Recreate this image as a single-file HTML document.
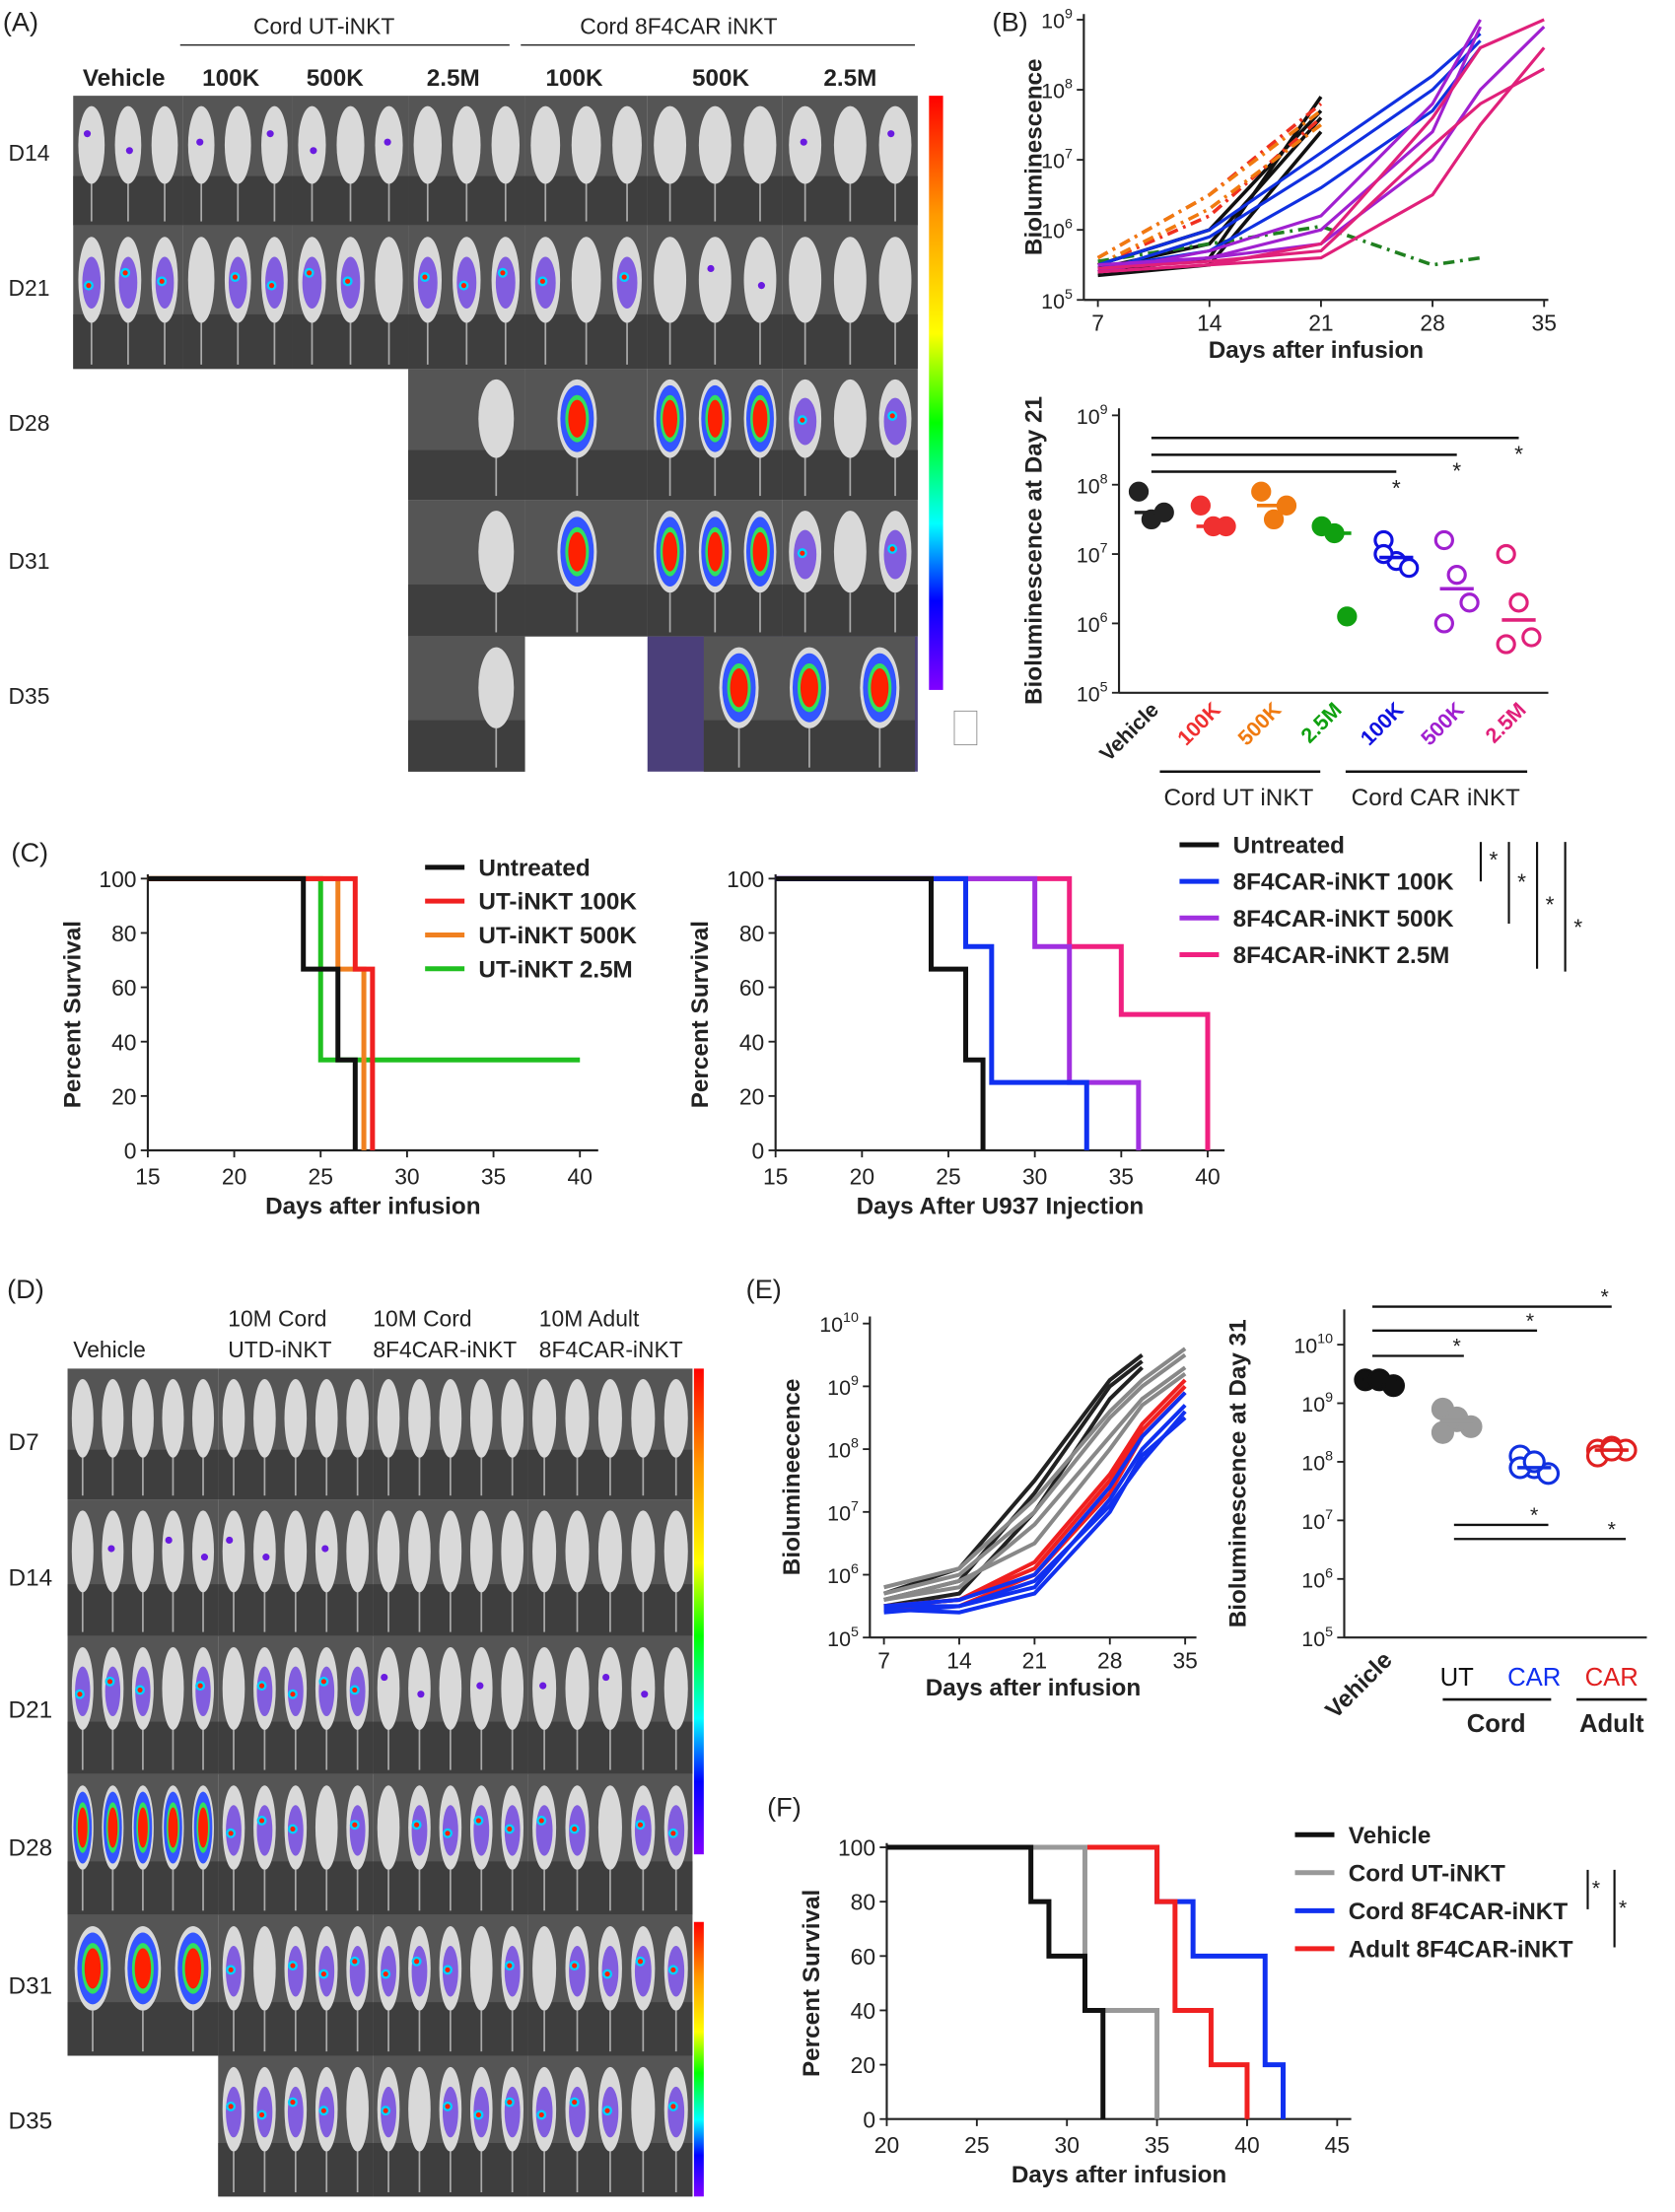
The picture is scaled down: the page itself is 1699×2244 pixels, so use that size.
<!DOCTYPE html>
<html><head><meta charset="utf-8">
<style>
html,body{margin:0;padding:0;background:#fff}
svg{display:block}
text{font-family:"Liberation Sans Narrow","Liberation Sans",sans-serif;fill:#222}
</style></head>
<body>
<svg id="fig" xmlns="http://www.w3.org/2000/svg" width="1699" height="2244" viewBox="0 0 1190 1571" preserveAspectRatio="none">
<defs>
<linearGradient id="rainbow" x1="0" y1="0" x2="0" y2="1">
<stop offset="0" stop-color="#ff0000"/><stop offset="0.2" stop-color="#ff9900"/><stop offset="0.4" stop-color="#ffff00"/><stop offset="0.55" stop-color="#00ff00"/><stop offset="0.72" stop-color="#00ffff"/><stop offset="0.85" stop-color="#0000ff"/><stop offset="1" stop-color="#8000ff"/>
</linearGradient>
</defs>
<g id="root"></g>
</svg>
<script>
// ---------- DATA ----------
const bDaysA = [7,14,21];
const bDaysB = [7,14,21,28,31];
const bDaysC = [7,14,21,28,31,35];
const bVehicle = [[5.4,5.6,7.9],[5.5,6.0,7.7],[5.35,5.5,7.4],[5.45,5.8,7.6]];
const bUT100 = [[5.5,6.2,7.6],[5.6,6.5,7.8]];
const bUT500 = [[5.6,6.5,7.7],[5.5,6.3,7.5]];
const bUT25 = [5.55,5.8,6.05,5.5,5.6];
const bCAR100 = [[5.4,5.9,6.9,8.0,8.7],[5.5,6.0,7.1,8.2,8.8],[5.45,5.7,6.6,7.7,8.6]];
const bCAR500 = [[5.4,5.7,6.2,7.8,9.0],[5.5,5.6,6.0,7.4,8.9],[5.45,5.6,5.8,7.0,8.0,8.9]];
const bCAR25 = [[5.4,5.5,5.6,6.5,7.5,8.6],[5.45,5.55,5.7,7.2,7.8,8.3],[5.4,5.5,5.8,7.6,8.6,9.0]];
const dCats = ["Vehicle","100K","500K","2.5M","100K","500K","2.5M"];
const dCatColors = ["#222","#f03030","#f07a10","#10a010","#1010e0","#a020d0","#e0207a"];
const dVals = [[7.9,7.5,7.6],[7.7,7.4,7.4],[7.9,7.5,7.7],[7.4,7.3,6.1],[7.2,6.9,6.8,7.0],[7.2,6.7,6.3,6.0],[7.0,6.3,5.8,5.7]];
const dFilled = [1,1,1,1,0,0,0];
const cBlackT=[15,24,26,27,27], cBlackS=[100,66.7,33.3,0,0];
const cRedT=[15,27,28], cRedS=[100,66.7,0];
const cOrT=[15,26,27.5], cOrS=[100,66.7,0];
const cGrT=[15,25,40], cGrS=[100,33.3,33.3];
const c2BlueT=[15,26,27.5,33], c2BlueS=[100,75,25,0];
const c2PurT=[15,30,32,36], c2PurS=[100,75,25,0];
const c2PinT=[15,32,35,40], c2PinS=[100,75,50,0];
const eDays=[7,14,21,28,31,35];
const eVehicle=[[5.6,5.9,7.3,9.0,9.4],[5.5,5.7,7.0,8.8,9.3],[5.7,6.1,7.5,9.1,9.5]];
const eUT=[[5.7,6.0,7.0,8.5,9.0,9.5],[5.6,5.8,6.8,8.2,8.8,9.3],[5.8,6.1,7.2,8.6,9.1,9.6],[5.6,5.9,6.5,8.0,8.7,9.2]];
const eCAR=[[5.5,5.5,5.8,7.2,8.0,8.7],[5.45,5.4,5.7,7.0,7.9,8.5],[5.5,5.6,6.0,7.4,8.2,8.9],[5.4,5.5,5.9,7.1,7.8,8.6]];
const eAdult=[[5.5,5.6,6.1,7.5,8.3,9.0],[5.45,5.5,6.0,7.3,8.2,8.9],[5.5,5.6,6.2,7.6,8.4,9.1]];
const eCats=["Vehicle","UT","CAR","CAR"];
const eCatColors=["#111","#999","#1030e0","#e02020"];
const eDotVals=[[9.4,9.4,9.3],[8.9,8.7,8.6,8.5,8.75],[8.1,7.9,7.8,7.9,8.0],[8.2,8.25,8.2,8.1,8.2]];
const eFilled=[1,1,0,0];
const fVehT=[20,28,29,31,32], fVehS=[100,80,60,40,0];
const fUTT=[20,31,35], fUTS=[100,40,0];
const fCART=[20,35,37,41,42], fCARS=[100,80,60,20,0];
const fAdT=[20,35,36,38,40], fAdS=[100,80,40,20,0];

// ---------- HELPERS ----------
const NS="http://www.w3.org/2000/svg";
const root=document.getElementById('root');
function mk(tag,attrs,parent){const e=document.createElementNS(NS,tag);for(const k in attrs)e.setAttribute(k,attrs[k]);(parent||root).appendChild(e);return e;}
function txt(x,y,s,size,opts,parent){opts=opts||{};const e=mk('text',Object.assign({x:x,y:y,'font-size':size,'text-anchor':opts.anchor||'start','font-weight':opts.bold?'bold':'normal'},opts.extra||{}),parent);if(opts.fill)e.style.fill=opts.fill;e.textContent=s;return e;}
function lin(d0,d1,r0,r1){return v=>r0+(v-d0)/(d1-d0)*(r1-r0);}
function grp(name){const g=mk('g',{});return g;}

[["(A)",2,22],["(B)",705,22],["(C)",8,612],["(D)",5,922],["(E)",530,922],["(F)",545,1290]].forEach(p=>{const t=txt(p[1],p[2],p[0],19);});

// ---------- MOUSE IMAGES ----------
function mouseBlock(g,x,y,w,h,n,sig,seed,mx,mwid){
  mk('rect',{x:x,y:y,width:w,height:h,fill:'#555'},g);
  mk('rect',{x:x,y:y+h*0.62,width:w,height:h*0.38,fill:'#3e3e3e'},g);
  const ox=(mx===undefined)?x:mx, ow=(mwid===undefined)?w:mwid;
  const mw=ow/n;
  for(let i=0;i<n;i++){
    const cx=ox+mw*(i+0.5), cy=y+h*0.38;
    const rx=Math.min(mw*0.36,14), ry=h*0.3;
    mk('line',{x1:cx,y1:cy+ry,x2:cx,y2:y+h*0.97,stroke:'#aaa','stroke-width':1.2},g);
    mk('ellipse',{cx:cx,cy:cy,rx:rx,ry:ry,fill:'#d9d9d9'},g);
    if(sig){
      const k=(seed+i*7)%5;
      if(sig===1){ if(k<3) mk('circle',{cx:cx-3+k*2,cy:cy-8+k*6,r:2.5,fill:'#6a1be0'},g); }
      else if(sig===2){ if(k<4){mk('ellipse',{cx:cx,cy:cy+2,rx:rx*0.7,ry:ry*0.6,fill:'#6a3de0','fill-opacity':0.8},g);
        mk('circle',{cx:cx-2,cy:cy-5+k*3,r:3.5,fill:'#00d0ff'},g);mk('circle',{cx:cx-2,cy:cy-5+k*3,r:1.8,fill:'#ff2000'},g);}}
      else { mk('ellipse',{cx:cx,cy:cy,rx:rx*0.85,ry:ry*0.85,fill:'#3355ff'},g);
        mk('ellipse',{cx:cx,cy:cy,rx:rx*0.6,ry:ry*0.6,fill:'#30e060'},g);
        mk('ellipse',{cx:cx,cy:cy,rx:rx*0.45,ry:ry*0.48,fill:'#ff2000'},g);}
    }
  }
}
(function(){
  const g=grp('panel-a-images');
  const cols=[52,130,208,290,373,460,556,652];
  const rows=[68,160,262,355,452,548];
  const sigs=[[1,1,1,0,0,0,1],[2,2,2,2,2,1,0]];
  for(let r=0;r<2;r++)for(let c=0;c<7;c++)mouseBlock(g,cols[c],rows[r],cols[c+1]-cols[c],rows[r+1]-rows[r],3,sigs[r][c],r*3+c);
  mouseBlock(g,290,262,83,93,1,0,0,335,35);
  mouseBlock(g,373,262,87,93,1,3,0,390,40);
  mouseBlock(g,460,262,96,93,3,3,1);
  mouseBlock(g,556,262,96,93,3,2,2);
  mouseBlock(g,290,355,83,97,1,0,0,335,35);
  mouseBlock(g,373,355,87,97,1,3,0,390,40);
  mouseBlock(g,460,355,96,97,3,3,1);
  mouseBlock(g,556,355,96,97,3,2,2);
  mouseBlock(g,290,452,83,96,1,0,0,335,35);
  mk('rect',{x:460,y:452,width:192,height:96,fill:'#4b3f7a'},g);
  mouseBlock(g,500,452,150,96,3,3,0);
  const cb=mk('rect',{x:660,y:68,width:10,height:422,fill:'url(#rainbow)'},g);
  
  mk('rect',{x:678,y:505,width:16,height:24,fill:'none',stroke:'#888','stroke-width':0.6},g);
  txt(180,24,"Cord UT-iNKT",16,{},g);txt(412,24,"Cord 8F4CAR iNKT",16,{},g);
  mk('line',{x1:128,y1:32,x2:362,y2:32,stroke:'#222'},g);mk('line',{x1:370,y1:32,x2:650,y2:32,stroke:'#222'},g);
  [["Vehicle",88],["100K",164],["500K",238],["2.5M",322],["100K",408],["500K",512],["2.5M",604]].forEach(h=>txt(h[1],61,h[0],17,{anchor:'middle',bold:true},g));
  [["D14",114],["D21",210],["D28",306],["D31",404],["D35",500]].forEach(h=>txt(6,h[1],h[0],16,{},g));
})();
(function(){
  const g=grp('panel-d-images');
  const cols=[48,155,265,375,492];
  const rows=[972,1065,1162,1260,1360,1460,1560];
  const sigs=[[0,0,0,0],[1,1,0,0],[2,2,1,1],[3,2,2,2],[3,2,2,2],[0,2,2,2]];
  for(let r=0;r<6;r++)for(let c=0;c<4;c++){
    if(r===5&&c===0)continue;
    if(r===4&&c===0){mouseBlock(g,48,1360,107,100,3,3,1);continue;}
    mouseBlock(g,cols[c],rows[r],cols[c+1]-cols[c],rows[r+1]-rows[r],5,sigs[r][c],r*4+c);
  }
  mk('rect',{x:493,y:972,width:7,height:345,fill:'url(#rainbow)'},g);
  mk('rect',{x:493,y:1365,width:7,height:195,fill:'url(#rainbow)'},g);
  txt(52,964,"Vehicle",16,{},g);
  txt(162,942,"10M Cord",16,{},g);txt(162,964,"UTD-iNKT",16,{},g);
  txt(265,942,"10M Cord",16,{},g);txt(265,964,"8F4CAR-iNKT",16,{},g);
  txt(383,942,"10M Adult",16,{},g);txt(383,964,"8F4CAR-iNKT",16,{},g);
  [["D7",1030],["D14",1126],["D21",1220],["D28",1318],["D31",1416],["D35",1512]].forEach(h=>txt(6,h[1],h[0],17,{},g));
})();

function logAxis(g,x0,x1,yBot,yTop,e0,e1,sx,sy,xticks,xLab,yLab,ylx){
  mk('line',{x1:x0,y1:yTop,x2:x0,y2:yBot,stroke:'#222','stroke-width':1.5},g);
  for(let e=e0;e<=e1;e++){const y=sy(e);mk('line',{x1:x0-5,y1:y,x2:x0,y2:y,stroke:'#222','stroke-width':1.3},g);
    const t=txt(x0-8,y+6,"10",15,{anchor:'end'},g);const s=mk('tspan',{dy:-7,'font-size':10},t);s.textContent=e;}
  if(xticks){mk('line',{x1:x0,y1:yBot,x2:x1,y2:yBot,stroke:'#222','stroke-width':1.5},g);
    xticks.forEach(d=>{const x=sx(d);mk('line',{x1:x,y1:yBot,x2:x,y2:yBot+5,stroke:'#222','stroke-width':1.3},g);txt(x,yBot+22,String(d),16,{anchor:'middle'},g);});
    txt((x0+x1)/2,yBot+41,xLab,17,{anchor:'middle',bold:true},g);}
  txt(0,0,yLab,17,{anchor:'middle',bold:true,extra:{transform:`translate(${ylx},${(yBot+yTop)/2}) rotate(-90)`}},g);
}
function drawLine(g,days,vals,sx,sy,color,w,dash,name){
  const p=mk('polyline',{points:vals.map((v,i)=>sx(days[i])+','+sy(v)).join(' '),fill:'none',stroke:color,'stroke-width':w,'stroke-dasharray':dash||'none'},g);
  
}
(function(){
  const g=grp('panel-b-line-chart');
  const sx=lin(7,35,780,1097), sy=lin(5,9,213,14);
  logAxis(g,770,1100,213,10,5,9,sx,sy,[7,14,21,28,35],"Days after infusion","Bioluminescence",740);
  const cut=(a,n)=>a.slice(0,n);
  bVehicle.forEach(v=>drawLine(g,bDaysA,v,sx,sy,'#111',2.5,null,'vehicle-line'));
  bUT100.forEach(v=>drawLine(g,bDaysA,v,sx,sy,'#f03020',2.5,'8,4,2,4','ut-100k-line'));
  bUT500.forEach(v=>drawLine(g,bDaysA,v,sx,sy,'#f07a10',2.5,'8,4,2,4','ut-500k-line'));
  drawLine(g,bDaysB,bUT25,sx,sy,'#208020',2.5,'8,4,2,4','ut-2.5m-line');
  bCAR100.forEach(v=>drawLine(g,cut(bDaysB,v.length),v,sx,sy,'#1030e0',2.2,null,'car-100k-line'));
  bCAR500.forEach(v=>drawLine(g,cut(bDaysC,v.length),v,sx,sy,'#a020d0',2.2,null,'car-500k-line'));
  bCAR25.forEach(v=>drawLine(g,cut(bDaysC,v.length),v,sx,sy,'#e0207a',2.2,null,'car-2.5m-line'));
})();
function dotPlot(g,xs,yBot,yTop,e0,e1,vals,colors,filled,r,spread){
  const sy=lin(e0,e1,yBot,yTop);
  vals.forEach((arr,ci)=>{
    const sorted=arr.slice().sort((a,b)=>a-b);const med=sorted.length%2?sorted[(sorted.length-1)/2]:(sorted[sorted.length/2-1]+sorted[sorted.length/2])/2;
    arr.forEach((v,i)=>{
      const c=mk('circle',{cx:xs[ci]+((i%3)-1)*spread,cy:sy(v),r:r,fill:filled[ci]?colors[ci]:'#fff',stroke:colors[ci],'stroke-width':2.2},g);
      });
    mk('line',{x1:xs[ci]-12,y1:sy(med),x2:xs[ci]+12,y2:sy(med),stroke:colors[ci],'stroke-width':2.5},g);
  });
  return sy;
}
(function(){
  const g=grp('panel-b-dot-plot');
  const xs=[818,862,905,948,992,1035,1079];
  const sy=lin(5,9,492,295);
  logAxis(g,795,1100,492,290,5,9,null,sy,null,"","Bioluminescence at Day 21",740);
  mk('line',{x1:795,y1:492,x2:1100,y2:492,stroke:'#222','stroke-width':1.5},g);
  dotPlot(g,xs,492,295,5,9,dVals,dCatColors,dFilled,6,9);
  dCats.forEach((c,i)=>txt(0,0,c,15,{anchor:'end',bold:true,fill:dCatColors[i],extra:{transform:`translate(${xs[i]+6},${505}) rotate(-45)`}}));
  mk('line',{x1:824,y1:548,x2:938,y2:548,stroke:'#111','stroke-width':1.8},g);
  mk('line',{x1:956,y1:548,x2:1085,y2:548,stroke:'#111','stroke-width':1.8},g);
  txt(880,572,"Cord UT iNKT",17,{anchor:'middle'},g);txt(1020,572,"Cord CAR iNKT",17,{anchor:'middle'},g);
  [[992,335],[1035,323],[1079,311]].forEach(s=>{mk('line',{x1:818,y1:s[1],x2:s[0],y2:s[1],stroke:'#111','stroke-width':1.8},g);txt(s[0],s[1]+17,"*",16,{anchor:'middle'},g);});
})();
function kmAxis(g,sx,sy,x0,x1,xt,xLab){
  mk('line',{x1:x0,y1:sy(0),x2:x0,y2:sy(100)-3,stroke:'#222','stroke-width':1.5},g);
  mk('line',{x1:x0,y1:sy(0),x2:x1,y2:sy(0),stroke:'#222','stroke-width':1.5},g);
  [0,20,40,60,80,100].forEach(v=>{mk('line',{x1:x0-5,y1:sy(v),x2:x0,y2:sy(v),stroke:'#222','stroke-width':1.3},g);txt(x0-8,sy(v)+6,String(v),16,{anchor:'end'},g);});
  xt.forEach(d=>{const x=sx(d);mk('line',{x1:x,y1:sy(0),x2:x,y2:sy(0)+5,stroke:'#222','stroke-width':1.3},g);txt(x,sy(0)+24,String(d),16,{anchor:'middle'},g);});
  txt((x0+x1)/2,sy(0)+45,xLab,17,{anchor:'middle',bold:true},g);
  txt(0,0,"Percent Survival",17,{anchor:'middle',bold:true,extra:{transform:`translate(${x0-48},${(sy(0)+sy(100))/2}) rotate(-90)`}},g);
}
function step(g,T,S,sx,sy,color,name){
  let pts=[];for(let i=0;i<T.length;i++){if(i>0)pts.push(sx(T[i])+','+sy(S[i-1]));pts.push(sx(T[i])+','+sy(S[i]));}
  const p=mk('polyline',{points:pts.join(' '),fill:'none',stroke:color,'stroke-width':3.5},g);
  
}
function legend(g,x,y,dy,items){items.forEach((it,i)=>{const yy=y+i*dy;mk('line',{x1:x,y1:yy,x2:x+28,y2:yy,stroke:it[1],'stroke-width':3.5},g);const t=txt(x+38,yy+6,it[0],17,{bold:true},g);});}
(function(){
  const g=grp('panel-c-left-survival');
  const sx=lin(15,40,105,412), sy=lin(0,100,817,624);
  kmAxis(g,sx,sy,105,425,[15,20,25,30,35,40],"Days after infusion");
  step(g,cGrT,cGrS,sx,sy,'#20c020','ut-2.5m-curve');
  step(g,cOrT,cOrS,sx,sy,'#f08020','ut-500k-curve');
  step(g,cRedT,cRedS,sx,sy,'#f02020','ut-100k-curve');
  step(g,cBlackT,cBlackS,sx,sy,'#111','untreated-curve');
  legend(g,302,616,24,[["Untreated","#111"],["UT-iNKT 100K","#f02020"],["UT-iNKT 500K","#f08020"],["UT-iNKT 2.5M","#20c020"]]);
})();
(function(){
  const g=grp('panel-c-right-survival');
  const sx=lin(15,40,551,858), sy=lin(0,100,817,624);
  kmAxis(g,sx,sy,551,870,[15,20,25,30,35,40],"Days After U937 Injection");
  step(g,c2PinT,c2PinS,sx,sy,'#f02080','car-2.5m-curve');
  step(g,c2PurT,c2PurS,sx,sy,'#a030e0','car-500k-curve');
  step(g,c2BlueT,c2BlueS,sx,sy,'#1030f0','car-100k-curve');
  step(g,cBlackT,cBlackS,sx,sy,'#111','untreated-curve');
  legend(g,838,600,26,[["Untreated","#111"],["8F4CAR-iNKT 100K","#1030f0"],["8F4CAR-iNKT 500K","#a030e0"],["8F4CAR-iNKT 2.5M","#f02080"]]);
  [[1052,598,626],[1072,598,656],[1092,598,688],[1112,598,690]].forEach((b,i)=>{mk('line',{x1:b[0],y1:b[1],x2:b[0],y2:b[2],stroke:'#111','stroke-width':1.5},g);txt(b[0]+6,b[1]+18+i*16,"*",16,{},g);});
})();
(function(){
  const g=grp('panel-e-line-chart');
  const sx=lin(7,35,628,842), sy=lin(5,10,1163,940);
  logAxis(g,618,850,1163,935,5,10,sx,sy,[7,14,21,28,35],"Days after infusion","Biolumineecence",568);
  eVehicle.forEach(v=>drawLine(g,eDays.slice(0,v.length),v,sx,sy,'#222',2.8,null,'vehicle-line'));
  eUT.forEach(v=>drawLine(g,eDays.slice(0,v.length),v,sx,sy,'#888',2.8,null,'cord-ut-line'));
  eAdult.forEach(v=>drawLine(g,eDays.slice(0,v.length),v,sx,sy,'#f02020',2.8,null,'adult-car-line'));
  eCAR.forEach(v=>drawLine(g,eDays.slice(0,v.length),v,sx,sy,'#1030f0',2.8,null,'cord-car-line'));
})();
(function(){
  const g=grp('panel-e-dot-plot');
  const xs=[980,1035,1090,1145];
  const sy=lin(5,10,1163,955);
  logAxis(g,955,1170,1163,930,5,10,null,sy,null,"","Bioluminescence at Day 31",885);
  mk('line',{x1:955,y1:1163,x2:1170,y2:1163,stroke:'#222','stroke-width':1.5},g);
  dotPlot(g,xs,1163,955,5,10,eDotVals,eCatColors,eFilled,7,10);
  txt(0,0,"Vehicle",17,{anchor:'end',bold:true,extra:{transform:`translate(990,1180) rotate(-45)`}},g);
  txt(1035,1197,"UT",18,{anchor:'middle',fill:'#111'},g);
  txt(1090,1197,"CAR",18,{anchor:'middle',fill:'#1030f0'},g);
  txt(1145,1197,"CAR",18,{anchor:'middle',fill:'#e02020'},g);
  mk('line',{x1:1025,y1:1207,x2:1102,y2:1207,stroke:'#111','stroke-width':1.8},g);
  mk('line',{x1:1120,y1:1207,x2:1170,y2:1207,stroke:'#111','stroke-width':1.8},g);
  txt(1063,1230,"Cord",18,{anchor:'middle',bold:true},g);txt(1145,1230,"Adult",18,{anchor:'middle',bold:true},g);
  [[1040,963],[1092,945],[1145,928]].forEach(s=>{mk('line',{x1:975,y1:s[1],x2:s[0],y2:s[1],stroke:'#111','stroke-width':1.6},g);txt(s[0]-5,s[1]-2,"*",15,{anchor:'middle'},g);});
  [[1100,1083],[1155,1093]].forEach(s=>{mk('line',{x1:1033,y1:s[1],x2:s[0],y2:s[1],stroke:'#111','stroke-width':1.6},g);txt(s[0]-10,s[1]-2,"*",15,{anchor:'middle'},g);});
})();
(function(){
  const g=grp('panel-f-survival');
  const sx=lin(20,45,630,950), sy=lin(0,100,1505,1312);
  kmAxis(g,sx,sy,630,960,[20,25,30,35,40,45],"Days after infusion");
  step(g,fCART,fCARS,sx,sy,'#1030f0','cord-car-curve');
  step(g,fAdT,fAdS,sx,sy,'#f02020','adult-car-curve');
  step(g,fUTT,fUTS,sx,sy,'#999','cord-ut-curve');
  step(g,fVehT,fVehS,sx,sy,'#111','vehicle-curve');
  legend(g,920,1303,27,[["Vehicle","#111"],["Cord UT-iNKT","#999"],["Cord 8F4CAR-iNKT","#1030f0"],["Adult 8F4CAR-iNKT","#f02020"]]);
  mk('line',{x1:1128,y1:1328,x2:1128,y2:1356,stroke:'#111','stroke-width':1.5},g);txt(1131,1346,"*",15,{},g);
  mk('line',{x1:1147,y1:1328,x2:1147,y2:1383,stroke:'#111','stroke-width':1.5},g);txt(1150,1360,"*",15,{},g);
})();
</script>
</body></html>
